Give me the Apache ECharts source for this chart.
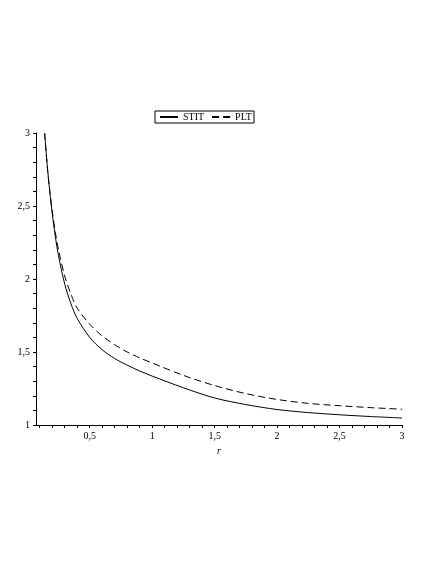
<!DOCTYPE html>
<html><head><meta charset="utf-8">
<script src="https://cdn.jsdelivr.net/npm/echarts@6/dist/echarts.min.js"></script>
<style>html,body{margin:0;padding:0;background:#fff}#c{width:436px;height:564px}</style>
</head><body><div id="c"></div>
<script>
const rValues    = [0.139,0.16,0.18,0.2,0.225,0.25,0.3,0.35,0.4,0.5,0.6,0.7,0.8,0.9,1.0,1.25,1.5,1.75,2.0,2.25,2.5,2.75,3.0];
const stitValues = [3.0,2.78,2.60,2.45,2.29,2.16,1.965,1.83,1.73,1.60,1.515,1.455,1.41,1.37,1.335,1.255,1.185,1.14,1.106,1.085,1.07,1.058,1.048];
const pltValues  = [3.0,2.77,2.605,2.465,2.32,2.20,2.02,1.895,1.80,1.69,1.61,1.55,1.50,1.46,1.425,1.34,1.27,1.215,1.175,1.148,1.132,1.119,1.108];
const xMajorTicks = [0.5,1,1.5,2,2.5,3];
const xMinorTicks = [0.1,0.2,0.3,0.4,0.5,0.6,0.7,0.8,0.9,1.0,1.1,1.2,1.3,1.4,1.5,1.6,1.7,1.8,1.9,2.0,2.1,2.2,2.3,2.4,2.5,2.6,2.7,2.8,2.9,3.0];
const seriesNames = ['STIT','PLT'];
const fmt = v => String(Math.round(v*10)/10).replace('.', ',');
const font = 'Liberation Serif';
const chart = echarts.init(document.getElementById('c'), null, {renderer:'canvas'});
chart.setOption({
  backgroundColor:'#fff',
  animation:false,
  legend:{
    left:155, top:111, itemWidth:18, itemHeight:8, itemGap:7, padding:[1,2,1,4],
    borderColor:'#000', borderWidth:1, borderRadius:0,
    itemStyle:{opacity:0},
    textStyle:{fontFamily:font, fontSize:10, color:'#000'},
    data:seriesNames
  },
  grid:{left:36, right:34, top:133, bottom:139, containLabel:false},
  xAxis:{
    type:'value', min:0.07, max:3, name:'r', nameLocation:'middle', nameGap:12,
    nameTextStyle:{fontFamily:font, fontStyle:'italic', fontSize:10, color:'#000'},
    axisLine:{show:true, onZero:false, lineStyle:{color:'#000', width:1}},
    axisTick:{show:true, length:3, customValues:xMinorTicks, lineStyle:{color:'#000'}},
    axisLabel:{customValues:xMajorTicks, formatter:fmt, fontFamily:font, fontSize:10, color:'#000', margin:6},
    splitLine:{show:false}
  },
  yAxis:{
    type:'value', min:1, max:3, interval:0.5,
    axisLine:{show:true, onZero:false, lineStyle:{color:'#000', width:1}},
    axisTick:{show:true, length:3, lineStyle:{color:'#000'}},
    minorTick:{show:true, splitNumber:5, length:3, lineStyle:{color:'#000'}},
    axisLabel:{formatter:fmt, fontFamily:font, fontSize:10, color:'#000', margin:6},
    splitLine:{show:false}
  },
  series:[
    {name:seriesNames[0], type:'line', smooth:0.3, symbol:'none', showSymbol:false,
     lineStyle:{color:'#000', width:1, type:'solid'}, itemStyle:{color:'#000'},
     data:rValues.map((r,i)=>[r, stitValues[i]])},
    {name:seriesNames[1], type:'line', smooth:0.3, symbol:'none', showSymbol:false,
     lineStyle:{color:'#000', width:1, type:[7,4]}, itemStyle:{color:'#000'},
     data:rValues.map((r,i)=>[r, pltValues[i]])}
  ]
});
</script></body></html>
